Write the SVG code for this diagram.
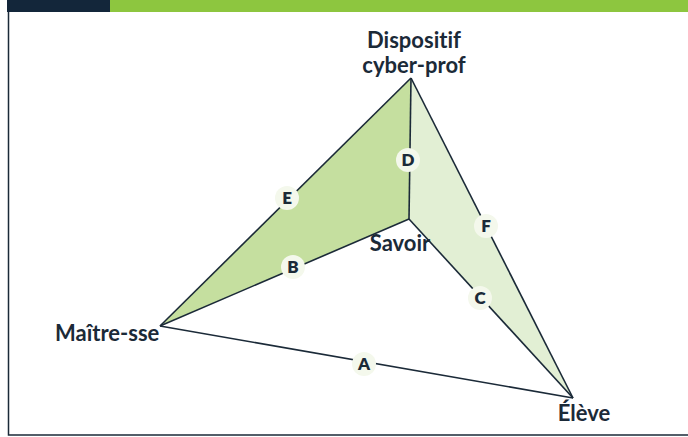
<svg xmlns="http://www.w3.org/2000/svg" width="688" height="437" viewBox="0 0 688 437">
<style>
.lbl{font-family:Lato,"Open Sans","Liberation Sans",sans-serif;font-weight:700;font-size:22px;fill:#1b2a38;font-variant-ligatures:none;font-feature-settings:"liga" 0,"clig" 0}
.let{font-family:Lato,"Open Sans","Liberation Sans",sans-serif;font-weight:800;font-size:17px;fill:#1b2a38;text-anchor:middle}
.edge{stroke:#1b2a38;stroke-width:1.6;fill:none}
.badge{fill:#f4f8ec}
</style>
<rect x="0" y="0" width="688" height="437" fill="#ffffff"/>
<rect x="7" y="0" width="104" height="12" fill="#13263a"/>
<rect x="110" y="0" width="578" height="12" fill="#8dc63f"/>
<path d="M8.5 12 V435 H688" fill="none" stroke="#1b2a38" stroke-width="1.5"/>
<polygon points="411,78 409,219 160,326" fill="#c5df9f"/>
<polygon points="411,78 409,219 573,398" fill="#e2efd4"/>
<g id="connectors">
<line class="edge" x1="160" y1="326" x2="573" y2="398"/>
<line class="edge" x1="160" y1="326" x2="409" y2="219"/>
<line class="edge" x1="409" y1="219" x2="573" y2="398"/>
<line class="edge" x1="411" y1="78" x2="409" y2="219"/>
<line class="edge" x1="411" y1="78" x2="160" y2="326"/>
<line class="edge" x1="411" y1="78" x2="573" y2="398"/>
</g>
<g id="lA"><circle class="badge" cx="364" cy="364" r="12"/><text class="let" x="364" y="370">A</text></g>
<g id="lB"><circle class="badge" cx="293" cy="267" r="12"/><text class="let" x="293" y="273">B</text></g>
<g id="lC"><circle class="badge" cx="480" cy="298" r="12"/><text class="let" x="480" y="304">C</text></g>
<g id="lD"><circle class="badge" cx="408" cy="160" r="12"/><text class="let" x="408" y="166">D</text></g>
<g id="lE"><circle class="badge" cx="287" cy="198" r="12"/><text class="let" x="287" y="204">E</text></g>
<g id="lF"><circle class="badge" cx="486" cy="226" r="12"/><text class="let" x="486" y="232">F</text></g>
<g id="dispositif"><text class="lbl" x="414" y="48" text-anchor="middle">Dispositif</text><text class="lbl" x="414" y="73" text-anchor="middle">cyber-prof</text></g>
<g id="savoir"><text class="lbl" x="400" y="251" text-anchor="middle">Savoir</text></g>
<g id="maitre"><text class="lbl" x="55" y="341">Maître-sse</text></g>
<g id="eleve"><text class="lbl" x="584" y="421" text-anchor="middle">Élève</text></g>
</svg>
